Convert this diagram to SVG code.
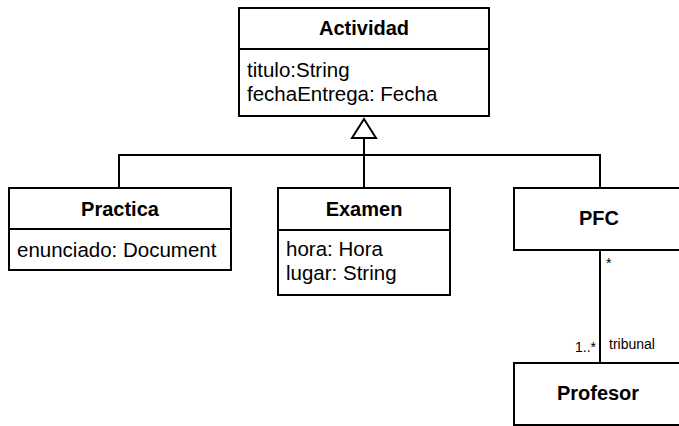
<svg xmlns="http://www.w3.org/2000/svg" width="679" height="426" viewBox="0 0 679 426">
<style>
.box{fill:#fff;stroke:#000;stroke-width:2}
.ln{fill:none;stroke:#000;stroke-width:2}
.t{font-family:"Liberation Sans",Arial,sans-serif;font-size:20px;font-weight:bold;text-anchor:middle;fill:#000}
.a{font-family:"Liberation Sans",Arial,sans-serif;font-size:20.5px;fill:#000}
.s{font-family:"Liberation Sans",Arial,sans-serif;font-size:14px;fill:#000}
</style>
<g id="connectors">
<polyline class="ln" points="119,188 119,155 600,155 600,188"/>
<line class="ln" x1="364" y1="138" x2="364" y2="188"/>
<polygon points="364,119 352,138 376,138" fill="#fff" stroke="#000" stroke-width="2"/>
<line class="ln" x1="600" y1="250" x2="600" y2="363"/>
<text class="s" x="606" y="268">*</text>
<text class="s" x="596" y="352" text-anchor="end">1..*</text>
<text class="s" x="609" y="349">tribunal</text>
</g>
<g id="Actividad">
<rect class="box" x="239" y="8" width="250" height="108"/>
<line class="ln" x1="239" y1="49" x2="489" y2="49"/>
<text class="t" x="364" y="35">Actividad</text>
<text class="a" x="247" y="77">titulo:String</text>
<text class="a" x="247" y="101">fechaEntrega: Fecha</text>
</g>
<g id="Practica">
<rect class="box" x="9" y="188" width="222" height="82"/>
<line class="ln" x1="9" y1="229" x2="231" y2="229"/>
<text class="t" x="120" y="216">Practica</text>
<text class="a" x="17" y="257">enunciado: Document</text>
</g>
<g id="Examen">
<rect class="box" x="278" y="188" width="172" height="107"/>
<line class="ln" x1="278" y1="230" x2="450" y2="230"/>
<text class="t" x="364" y="216">Examen</text>
<text class="a" x="286" y="256">hora: Hora</text>
<text class="a" x="286" y="280">lugar: String</text>
</g>
<g id="PFC">
<rect class="box" x="514" y="188" width="170" height="62"/>
<text class="t" x="599" y="225">PFC</text>
</g>
<g id="Profesor">
<rect class="box" x="514" y="363" width="170" height="62"/>
<text class="t" x="598" y="400">Profesor</text>
</g>
</svg>
